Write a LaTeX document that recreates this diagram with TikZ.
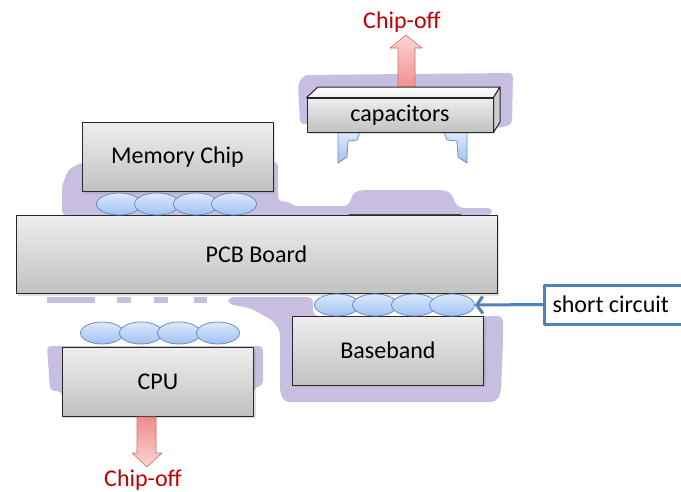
\documentclass[tikz,border=0pt]{standalone}
\usepackage{fontspec}
\setmainfont{Carlito}
\usetikzlibrary{shapes.geometric,shadows,arrows.meta}

\definecolor{blob}{RGB}{199,190,226}
\definecolor{boxtop}{RGB}{238,238,238}
\definecolor{boxbot}{RGB}{193,193,193}
\definecolor{balltop}{RGB}{222,233,251}
\definecolor{ballbot}{RGB}{160,193,243}
\definecolor{balledge}{RGB}{104,142,200}
\definecolor{linkblue}{RGB}{79,129,189}
\definecolor{chipred}{RGB}{192,0,0}
\definecolor{arrlight}{RGB}{251,212,212}
\definecolor{arrdark}{RGB}{240,140,140}
\definecolor{arredge}{RGB}{205,110,110}

\begin{document}
\begin{tikzpicture}[x=1pt,y=-1pt,line cap=round,line join=round,
  chip/.style={draw=black!85,line width=1pt,top color=boxtop,bottom color=boxbot,
    drop shadow={opacity=0.25,shadow xshift=2pt,shadow yshift=-2pt},
    inner sep=0pt,font=\fontsize{24}{28}\selectfont},
  ball/.style={ellipse,draw=balledge,line width=0.8pt,top color=balltop,
    bottom color=ballbot,minimum width=45pt,minimum height=22pt,inner sep=0pt},
  pin/.style={draw=balledge,line width=0.8pt,top color=balltop,bottom color=ballbot},
  blockarrow/.style={draw=arredge,line width=0.6pt},
  offlabel/.style={text=chipred,inner sep=0pt,font=\fontsize{24}{28}\selectfont}]
  \useasboundingbox (0,0) rectangle (681,491);

  \fill[blob,rounded corners=4pt] (298,84) -- (304,75) -- (513,73) -- (512,124)
    -- (500,128) -- (300,124) -- cycle;
  \fill[blob,rounded corners=4pt] (62,215) -- (62,186) -- (68,170) -- (80,163)
    -- (278,162) -- (278,201) -- (290,202) -- (292,206) -- (348,206) -- (354,192)
    -- (362,190) -- (442,190) -- (450,192) -- (457,206) -- (462,208) -- (492,208)
    -- (492,215) -- cycle;
  \fill[blob] (47,297) rectangle (95,303);
  \fill[blob] (117,297) rectangle (131,303);
  \fill[blob] (154,297) rectangle (168,303);
  \fill[blob] (194,297) rectangle (207,303);
  \fill[blob,rounded corners=5pt] (228,297) -- (313,297) -- (313,316) -- (484,316)
    -- (503,316) -- (503,340) -- (501,392) -- (496,402) -- (284,402) -- (280,392)
    -- (280,330) -- (272,320) -- (250,308) -- (228,304) -- cycle;
  \fill[blob,rounded corners=4pt] (47,346) -- (263,346) -- (263,385) -- (254,388)
    -- (254,400) -- (62,400) -- (62,392) -- (50,390) -- cycle;
  \draw[black!70,line width=0.8pt] (349,214) -- (461,214);

  \draw[pin] (338,132) -- (360,132) -- (357,140) -- (348,141) -- (347,157)
    -- (338,163) -- cycle;
  \draw[pin] (467,132) -- (444,132) -- (447,140) -- (457,141) -- (458,157)
    -- (467,163) -- cycle;

  \draw[blockarrow,top color=arrlight,bottom color=arrdark] (398,90) -- (398,48)
    -- (390,48) -- (406,35) -- (422,48) -- (415,48) -- (415,90) -- cycle;
  \node[offlabel] (capoff) at (402,22) {Chip-off};

  \node[chip,minimum width=481pt,minimum height=78pt] (pcb) at (256.5,254.5) {PCB Board};
  \node[chip,minimum width=191pt,minimum height=69pt] (memchip) at (177.5,157) {Memory Chip};
  \node[chip,minimum width=191pt,minimum height=69pt] (baseband) at (388,350.5) {Baseband};
  \node[chip,minimum width=191pt,minimum height=69pt] (cpu) at (158,381.5) {CPU};

  \node[chip,minimum width=186pt,minimum height=34pt] (caps) at (400,115) {capacitors};
  \draw[black!85,line width=1pt,top color=white,bottom color=boxtop]
    (caps.north west) -- (318,87) -- (500,87) -- (caps.north east) -- cycle;
  \draw[black!85,line width=1pt,fill=boxbot!80]
    (caps.north east) -- (500,87) -- (500,122) -- (caps.south east) -- cycle;

  \foreach \i/\x in {1/119,2/157,3/196,4/234}
    \node[ball] (mb\i) at (\x,204) {};
  \foreach \i/\x in {1/337,2/375,3/414,4/452}
    \node[ball] (bb\i) at (\x,305) {};
  \foreach \i/\x in {1/102,2/141,3/179,4/218}
    \node[ball,minimum width=43pt] (cb\i) at (\x,333) {};

  \draw[blockarrow,top color=arrdark,bottom color=arrlight] (137,417) -- (137,453)
    -- (132,453) -- (147,467) -- (162,453) -- (156,453) -- (156,417) -- cycle;
  \node[offlabel] (cpuoff) at (143,480) {Chip-off};

  \node[draw=linkblue,line width=3pt,fill=white,anchor=west,text width=126pt,
    align=flush left,minimum height=39pt,inner xsep=8pt,font=\fontsize{24}{28}\selectfont]
    (short) at (543,304.5) {short circuit};
  \draw[linkblue,line width=3pt,-{Straight Barb[length=6pt,width=17pt]}]
    (short.west) -- (bb4.east);
\end{tikzpicture}
\end{document}
